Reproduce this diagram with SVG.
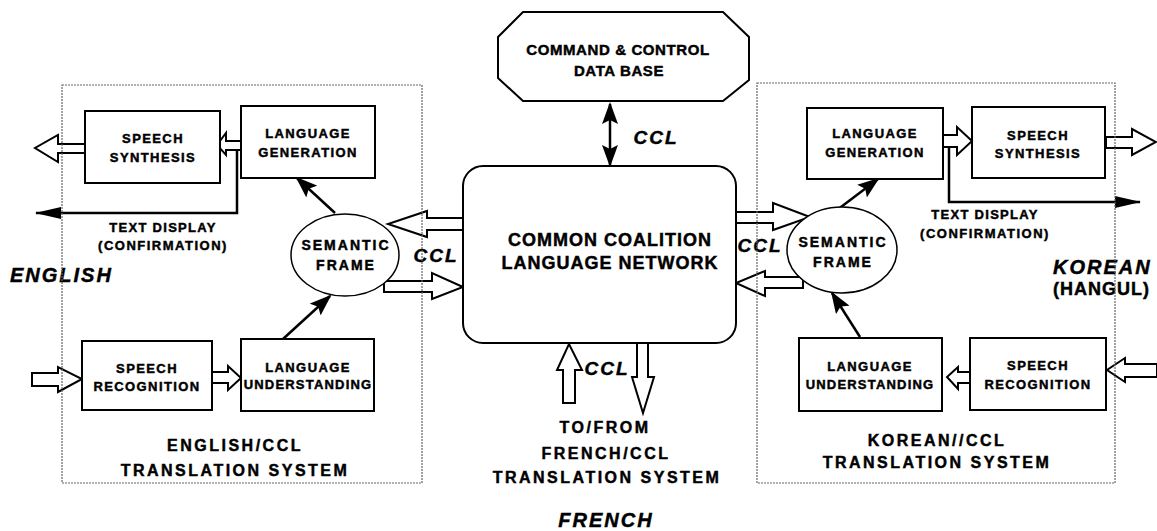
<svg xmlns="http://www.w3.org/2000/svg" width="1157" height="531" viewBox="0 0 1157 531">
<defs>
<style>
.t{font-family:"Liberation Sans",Arial,sans-serif;font-weight:bold;fill:#000;stroke:#000;stroke-width:0.45;text-anchor:middle}
.s{font-size:13px;letter-spacing:1.4px}
.m{font-size:16px;letter-spacing:2.5px}
.b{font-size:18px;letter-spacing:1px}
.i{font-style:italic;font-size:19px;letter-spacing:2px}
.box{fill:#fff;stroke:#000;stroke-width:2}
.ha{fill:#fff;stroke:#000;stroke-width:2;stroke-linejoin:miter}
.ln{fill:none;stroke:#000;stroke-width:2.5}
.fr{fill:none;stroke:#666;stroke-width:1.2;stroke-dasharray:2 1}
</style>
<marker id="ah" markerUnits="userSpaceOnUse" markerWidth="22" markerHeight="16" refX="20" refY="8" orient="auto-start-reverse" viewBox="0 0 22 16">
<path d="M0,0 L22,8 L0,16 L4,8 z" fill="#000"/>
</marker>
<marker id="ahb" markerUnits="userSpaceOnUse" markerWidth="26" markerHeight="14" refX="25" refY="7" orient="auto" viewBox="0 0 26 14">
<path d="M0,1 L26,7 L0,13 z" fill="#000"/>
</marker>
</defs>
<rect width="1157" height="531" fill="#fff"/>

<g id="connectors">
<line class="ln" x1="610" y1="104" x2="610" y2="165" marker-start="url(#ah)" marker-end="url(#ah)"/>
<line class="ln" x1="335" y1="213" x2="297" y2="178" marker-end="url(#ah)"/>
<line class="ln" x1="283" y1="339" x2="330" y2="296" marker-end="url(#ah)"/>
<line class="ln" x1="837" y1="210" x2="878" y2="179" marker-end="url(#ah)"/>
<line class="ln" x1="860" y1="337" x2="832" y2="293" marker-end="url(#ah)"/>
<polyline class="ln" points="237,146 237,213 36,213" marker-end="url(#ahb)"/>
<polyline class="ln" points="949,140 949,202 1140,202" marker-end="url(#ahb)"/>
<polygon class="ha" points="241,141 226,141 226,133 217,145 226,155 226,150 241,150"/>
<polygon class="ha" points="85,144 58,144 58,135 35,148 58,162 58,153 85,153"/>
<polygon class="ha" points="32,373 58,373 58,367 82,379 58,392 58,386 32,386"/>
<polygon class="ha" points="212,372 228,372 228,366 241,378 228,390 228,383 212,383"/>
<polygon class="ha" points="942,135 957,135 957,127 972,141 957,155 957,147 942,147"/>
<polygon class="ha" points="1106,137 1132,137 1132,129 1156,142 1132,155 1132,148 1106,148"/>
<polygon class="ha" points="970,372 958,372 958,367 947,377 958,389 958,383 970,383"/>
<polygon class="ha" points="1157,364 1125,364 1125,358 1107,370 1125,382 1125,377 1157,377"/>
<polygon class="ha" points="463,218 427,218 427,211 388,224 427,237 427,230 463,230"/>
<polygon class="ha" points="384,281 432,281 432,273 463,287 432,299 432,292 384,292"/>
<polygon class="ha" points="736,212 773,212 773,203 810,217 773,230 773,223 736,223"/>
<polygon class="ha" points="803,277 765,277 765,271 736,283 765,296 765,288 803,288"/>
<polygon class="ha" points="563,403 563,370 557,370 569,344 582,370 575,370 575,403"/>
<polygon class="ha" points="637,343 637,377 632,377 643,413 654,377 648,377 648,343"/>
</g>

<g id="db">
<polygon class="box" points="523,12 723,12 749,37 749,80 723,101 523,101 498,78 498,37"/>
<text class="t" style="font-size:15px;letter-spacing:0.6px" x="618" y="55">COMMAND &amp; CONTROL</text>
<text class="t" style="font-size:15px;letter-spacing:0.6px" x="619" y="76">DATA BASE</text>
</g>

<g id="ccln">
<rect class="box" x="463" y="166" width="273" height="177" rx="20"/>
<text class="t b" x="610" y="246">COMMON COALITION</text>
<text class="t b" x="610" y="269">LANGUAGE NETWORK</text>
</g>

<g id="en-synth">
<rect class="box" x="85" y="111" width="135" height="72"/>
<text class="t s" x="153" y="143">SPEECH</text>
<text class="t s" x="153" y="162">SYNTHESIS</text>
</g>
<g id="en-gen">
<rect class="box" x="241" y="106" width="134" height="72"/>
<text class="t s" x="308" y="138">LANGUAGE</text>
<text class="t s" x="308" y="157">GENERATION</text>
</g>
<g id="en-rec">
<rect class="box" x="82" y="341" width="130" height="69"/>
<text class="t s" x="147" y="373">SPEECH</text>
<text class="t s" x="147" y="391">RECOGNITION</text>
</g>
<g id="en-und">
<rect class="box" x="241" y="339" width="133" height="72"/>
<text class="t s" x="308" y="372">LANGUAGE</text>
<text class="t s" style="letter-spacing:1.2px" x="308" y="389">UNDERSTANDING</text>
</g>
<g id="en-sem">
<ellipse class="box" cx="345" cy="255" rx="54" ry="41" style="stroke-width:1.5"/>
<text class="t" style="font-size:14px;letter-spacing:2px" x="346" y="250">SEMANTIC</text>
<text class="t" style="font-size:14px;letter-spacing:2px" x="346" y="270">FRAME</text>
</g>

<g id="ko-gen">
<rect class="box" x="807" y="108" width="136" height="71"/>
<text class="t s" x="875" y="138">LANGUAGE</text>
<text class="t s" x="875" y="157">GENERATION</text>
</g>
<g id="ko-synth">
<rect class="box" x="972" y="107" width="133" height="71"/>
<text class="t s" x="1038" y="140">SPEECH</text>
<text class="t s" x="1038" y="158">SYNTHESIS</text>
</g>
<g id="ko-und">
<rect class="box" x="799" y="338" width="143" height="73"/>
<text class="t s" x="870" y="371">LANGUAGE</text>
<text class="t s" style="letter-spacing:1.2px" x="870" y="389">UNDERSTANDING</text>
</g>
<g id="ko-rec">
<rect class="box" x="970" y="338" width="136" height="72"/>
<text class="t s" x="1038" y="370">SPEECH</text>
<text class="t s" x="1038" y="389">RECOGNITION</text>
</g>
<g id="ko-sem">
<ellipse class="box" cx="842" cy="250" rx="55" ry="43" style="stroke-width:1.5"/>
<text class="t" style="font-size:14px;letter-spacing:2px" x="843" y="247">SEMANTIC</text>
<text class="t" style="font-size:14px;letter-spacing:2px" x="843" y="267">FRAME</text>
</g>

<g id="labels">
<text class="t s" style="letter-spacing:1.3px" x="163" y="232">TEXT DISPLAY</text>
<text class="t s" style="letter-spacing:1.5px" x="163" y="250">(CONFIRMATION)</text>
<text class="t s" style="letter-spacing:1.3px" x="985" y="219">TEXT DISPLAY</text>
<text class="t s" style="letter-spacing:1.5px" x="985" y="238">(CONFIRMATION)</text>
<text class="t i" x="656" y="144">CCL</text>
<text class="t i" x="436" y="262">CCL</text>
<text class="t i" x="760" y="252">CCL</text>
<text class="t i" x="607" y="375">CCL</text>
<text class="t" style="font-style:italic;font-size:20px;letter-spacing:2px;text-anchor:start" x="10" y="282">ENGLISH</text>
<text class="t" style="font-style:italic;font-size:20px;letter-spacing:2px;text-anchor:start" x="1053" y="274">KOREAN</text>
<text class="t" style="font-size:18px;letter-spacing:1px;text-anchor:start" x="1053" y="295">(HANGUL)</text>
<text class="t m" x="235" y="451">ENGLISH/CCL</text>
<text class="t m" x="235" y="476">TRANSLATION SYSTEM</text>
<text class="t m" x="937" y="446">KOREAN//CCL</text>
<text class="t m" x="937" y="468">TRANSLATION SYSTEM</text>
<text class="t m" x="605" y="433">TO/FROM</text>
<text class="t m" x="606" y="459">FRENCH/CCL</text>
<text class="t m" x="607" y="483">TRANSLATION SYSTEM</text>
<text class="t" style="font-style:italic;font-size:20px;letter-spacing:2px" x="606" y="527">FRENCH</text>
</g>

<g id="frames">
<rect class="fr" x="62" y="85" width="360" height="398"/>
<rect class="fr" x="757" y="83" width="358" height="400"/>
</g>
</svg>
